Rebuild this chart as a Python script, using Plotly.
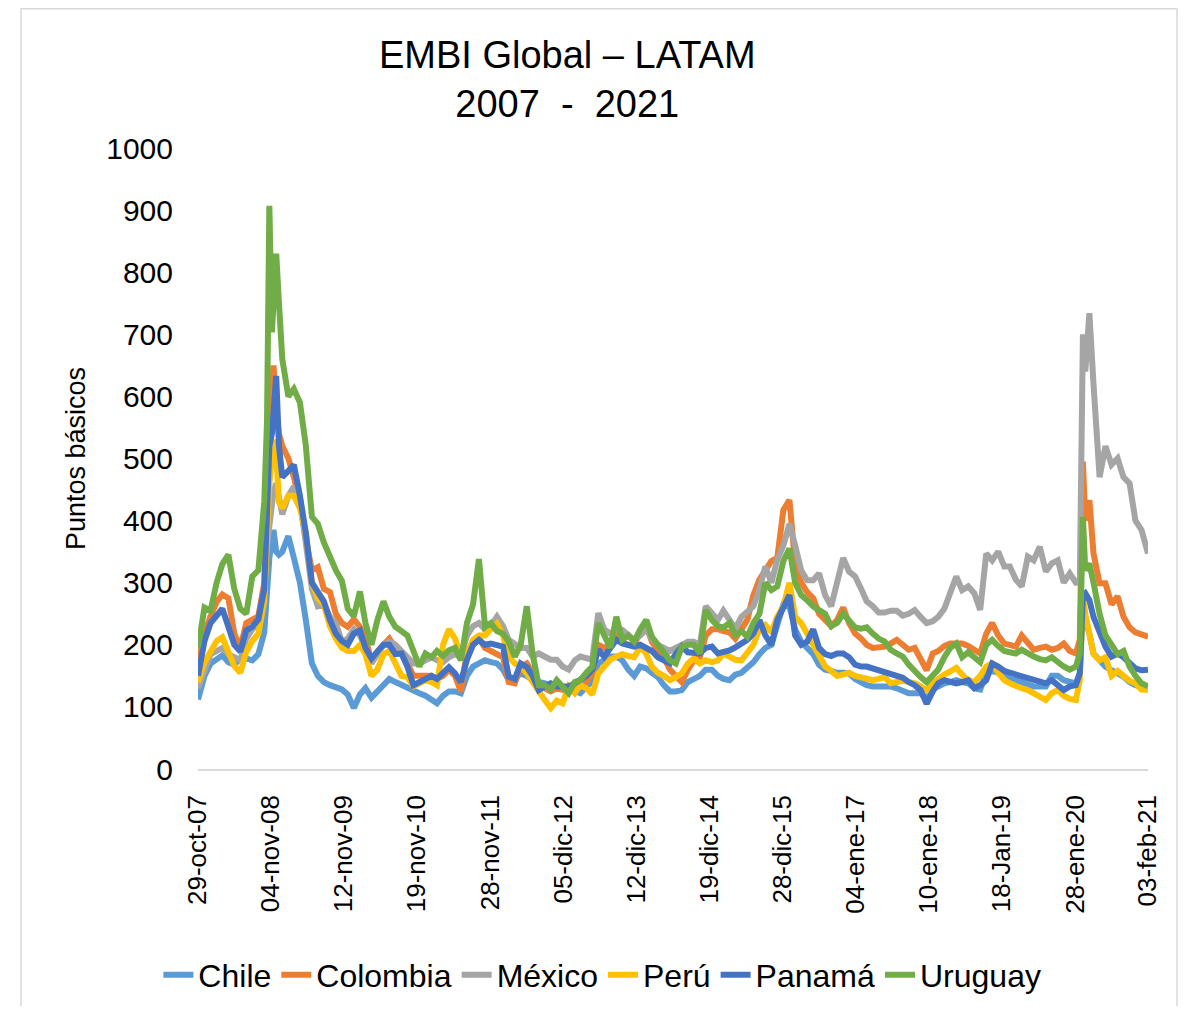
import plotly.graph_objects as go

# x categories: start/end days plus month starts, with extra days around the 2008 and 2020 spikes
dates = (
    ["2007-10-29", "2007-12-01"]
    + ["2008-01-01", "2008-02-01", "2008-03-01", "2008-04-01", "2008-05-01", "2008-06-01",
       "2008-07-01", "2008-08-01", "2008-09-01", "2008-10-01", "2008-10-15", "2008-10-27",
       "2008-11-09", "2008-11-17", "2008-12-01", "2008-12-15"]
    + [f"{y}-{m:02d}-01" for y in range(2009, 2020) for m in range(1, 13)]
    + ["2020-01-01", "2020-02-01", "2020-02-21", "2020-03-08", "2020-03-20", "2020-04-10",
       "2020-05-01", "2020-06-01", "2020-07-01", "2020-08-01", "2020-09-01", "2020-10-01",
       "2020-11-01", "2020-12-01"]
    + ["2021-01-01", "2021-02-03"]
)

tick_dates = ["2007-10-29", "2008-11-04", "2009-11-12", "2010-11-19", "2011-11-28", "2012-12-05",
              "2013-12-12", "2014-12-19", "2015-12-28", "2017-01-04", "2018-01-10", "2019-01-18",
              "2020-01-28", "2021-02-03"]
tick_labels = ["29-oct-07", "04-nov-08", "12-nov-09", "19-nov-10", "28-nov-11", "05-dic-12",
               "12-dic-13", "19-dic-14", "28-dic-15", "04-ene-17", "10-ene-18", "18-Jan-19",
               "28-ene-20", "03-feb-21"]

# values in basis points
chile = [
    112, 150,
    170, 178, 183, 172, 168, 178, 178, 175, 185, 220, 300, 340, 370, 385, 350, 345,
    350, 375, 340, 300, 240, 170, 150, 140, 135, 132, 128, 120,
    98, 120, 130, 115, 125, 135, 145, 140, 135, 130, 125, 122,
    118, 111, 106, 118, 125, 125, 122, 150, 165, 170, 175, 172,
    170, 160, 143, 145, 154, 150, 143, 140, 138, 133, 133, 133,
    130, 125, 122, 133, 140, 170, 175, 181, 181, 175, 160, 150,
    165, 162, 155, 148, 135, 125, 125, 127, 140, 145, 150, 160,
    160, 150, 145, 143, 152, 155, 162, 172, 185, 195, 200, 235,
    265, 262, 225, 205, 195, 185, 168, 160, 158, 155, 155, 154,
    145, 140, 135, 133, 133, 135, 133, 130, 127, 122, 122, 122,
    113, 130, 133, 138, 140, 143, 140, 138, 130, 128, 154, 158,
    155, 149, 145, 143, 140, 138, 133, 133, 133, 150, 150, 143,
    140, 138, 154, 272, 240, 218, 186, 175, 165, 159, 154, 149, 140, 135,
    133, 132,
]
colombia = [
    170, 218,
    246, 269, 281, 275, 218, 195, 235, 241, 246, 300, 440, 560, 610, 650, 580, 540,
    520, 500, 470, 430, 370, 320, 325, 290, 285, 250, 235, 229,
    241, 229, 212, 172, 189, 200, 210, 195, 185, 170, 150, 150,
    150, 150, 145, 150, 160, 150, 125, 190, 200, 210, 195, 190,
    185, 180, 140, 138, 165, 170, 155, 135, 130, 125, 130, 128,
    125, 130, 135, 140, 155, 200, 195, 200, 215, 205, 200, 200,
    220, 230, 205, 190, 180, 160, 150, 140, 160, 175, 180, 215,
    225, 225, 222, 220, 210, 225, 240, 280, 305, 320, 335, 340,
    417, 433, 330, 300, 285, 275, 250, 240, 230, 240, 260, 235,
    218, 210, 200, 195, 195, 197, 202, 208, 200, 192, 195, 175,
    159, 186, 190, 198, 202, 202, 202, 198, 192, 186, 218, 235,
    215, 202, 200, 197, 215, 205, 192, 195, 197, 192, 195, 202,
    190, 186, 208, 495, 400, 433, 347, 299, 299, 265, 278, 245, 228, 220,
    217, 213,
]
mexico = [
    130, 160,
    185, 190, 195, 185, 180, 175, 210, 225, 235, 280, 361, 400, 429, 445, 460, 441,
    410, 440, 455, 435, 370, 290, 262, 265, 245, 235, 205, 210,
    225, 215, 195, 170, 185, 200, 205, 200, 190, 180, 170, 170,
    175, 180, 175, 172, 180, 185, 180, 215, 230, 235, 225, 230,
    245, 230, 208, 200, 195, 195, 181, 186, 180, 176, 176, 165,
    160, 175, 181, 178, 176, 251, 225, 218, 225, 224, 215, 208,
    215, 225, 210, 200, 195, 190, 195, 200, 205, 205, 200, 262,
    250, 240, 255, 240, 226, 245, 255, 262, 290, 326, 300, 337,
    360, 395, 360, 320, 304, 304, 315, 280, 262, 300, 340, 318,
    310, 290, 270, 262, 252, 252, 255, 255, 247, 250, 256, 245,
    235, 238, 245, 258, 283, 310, 288, 294, 283, 256, 347, 336,
    350, 326, 326, 305, 294, 342, 336, 358, 318, 331, 336, 300,
    315, 300, 300, 700, 640, 734, 620, 470, 520, 490, 500, 470, 460, 400,
    385, 347,
]
peru = [
    140, 172,
    189, 206, 212, 189, 166, 155, 189, 206, 218, 270, 380, 460, 500, 530, 510, 430,
    420, 440, 440, 420, 380, 300, 275, 265, 230, 210, 195, 190,
    190, 200, 185, 150, 160, 185, 190, 170, 150, 148, 133, 138,
    143, 140, 135, 200, 225, 210, 180, 185, 208, 215, 215, 225,
    234, 215, 181, 170, 165, 154, 140, 122, 111, 98, 110, 106,
    133, 122, 135, 130, 120, 154, 164, 176, 181, 185, 182, 180,
    197, 185, 165, 155, 150, 143, 148, 154, 170, 178, 170, 175,
    172, 175, 186, 180, 176, 175, 186, 200, 225, 232, 220, 245,
    262, 300, 245, 235, 218, 200, 186, 165, 158, 150, 152, 155,
    150, 148, 145, 143, 145, 148, 138, 140, 142, 140, 138, 133,
    127, 138, 145, 152, 157, 163, 152, 143, 140, 150, 165, 170,
    155, 143, 138, 133, 130, 127, 122, 118, 111, 122, 127, 118,
    113, 111, 143, 283, 250, 218, 185, 175, 180, 150, 158, 150, 142, 138,
    128, 127,
]
panama = [
    150, 206,
    235, 246, 258, 229, 200, 189, 223, 229, 241, 290, 400, 520, 540, 570, 633, 520,
    470, 480, 490, 440, 380, 300, 285, 270, 240, 218, 206, 200,
    218, 223, 195, 178, 189, 200, 200, 185, 186, 165, 135, 140,
    145, 150, 145, 155, 164, 154, 140, 176, 200, 208, 200, 202,
    200, 197, 149, 145, 170, 164, 150, 127, 133, 138, 133, 133,
    133, 138, 143, 150, 160, 192, 181, 195, 208, 202, 200, 197,
    200, 195, 190, 180, 175, 170, 185, 197, 188, 186, 186, 195,
    197, 186, 188, 191, 196, 202, 208, 218, 240, 215, 200, 240,
    262, 280, 215, 200, 205, 225, 195, 185, 182, 186, 186, 180,
    168, 165, 165, 162, 159, 155, 154, 150, 147, 140, 135, 127,
    105, 125, 138, 143, 140, 138, 140, 143, 130, 135, 143, 170,
    165, 158, 155, 152, 149, 147, 143, 140, 138, 143, 135, 127,
    133, 135, 154, 280, 283, 272, 245, 218, 197, 181, 186, 180, 170, 162,
    159, 160,
]
uruguay = [
    195, 260,
    255, 300, 330, 345, 290, 258, 250, 310, 320, 430, 560, 907, 703, 770, 830, 750,
    660, 600, 612, 590, 521, 406, 395, 365, 340, 320, 303, 258,
    246, 286, 235, 200, 240, 270, 245, 229, 222, 215, 190, 165,
    186, 180, 190, 182, 191, 195, 175, 235, 265, 338, 229, 235,
    222, 218, 205, 181, 200, 262, 185, 135, 135, 128, 143, 132,
    122, 140, 143, 155, 165, 235, 215, 195, 245, 208, 215, 205,
    225, 240, 213, 200, 190, 175, 170, 197, 200, 200, 186, 256,
    240, 230, 228, 235, 216, 222, 213, 235, 250, 300, 288, 294,
    335, 355, 300, 280, 272, 262, 256, 250, 230, 235, 250, 240,
    228, 226, 228, 218, 210, 205, 192, 186, 181, 168, 157, 148,
    140, 150, 160, 180, 195, 202, 180, 188, 180, 172, 200, 208,
    198, 190, 188, 186, 192, 185, 181, 177, 175, 180, 172, 165,
    160, 165, 186, 406, 320, 331, 300, 250, 215, 200, 185, 190, 165, 150,
    138, 133,
]

countries = ["Chile", "Colombia", "México", "Perú", "Panamá", "Uruguay"]
series = [chile, colombia, mexico, peru, panama, uruguay]
colors = ["#5B9BD5", "#ED7D31", "#A5A5A5", "#FFC000", "#4472C4", "#70AD47"]

fig = go.Figure()
for name, vals, col in zip(countries, series, colors):
    assert len(vals) == len(dates), name
    fig.add_trace(go.Scatter(x=dates, y=vals, mode="lines", name=name,
                             line=dict(color=col, width=6)))

fig.update_layout(
    width=1170, height=998,
    margin=dict(l=190, r=30, t=140, b=237, autoexpand=False),
    paper_bgcolor="white", plot_bgcolor="white",
    font=dict(family="Liberation Sans, Arial", color="black"),
    title=dict(text="EMBI Global – LATAM<br>2007  -  2021", font=dict(size=38),
               x=0.478, xref="container", xanchor="center",
               y=0.94, yref="container", yanchor="top"),
    legend=dict(orientation="h", xref="container", x=0.508, xanchor="center",
                yref="container", y=0.031, yanchor="middle",
                font=dict(size=32)),
    shapes=[dict(type="rect", xref="paper", yref="paper",
                 x0=-0.1863, x1=1.0305, y0=-0.401, y1=1.2242,
                 line=dict(color="#d9d9d9", width=1.5))],
)
fig.update_xaxes(type="date", range=[dates[0], dates[-1]],
                 tickvals=tick_dates, ticktext=tick_labels, tickangle=-90,
                 tickfont=dict(size=26), showgrid=False, showline=True,
                 linecolor="#d9d9d9", linewidth=1.5, ticks="", ticklabelstandoff=14)
fig.update_yaxes(range=[0, 1000], dtick=100, tick0=0, showgrid=False, zeroline=False,
                 showline=False, tickfont=dict(size=30), ticklabelstandoff=24,
                 title=dict(text="Puntos básicos", font=dict(size=27), standoff=12))

fig.write_html("out.html")
